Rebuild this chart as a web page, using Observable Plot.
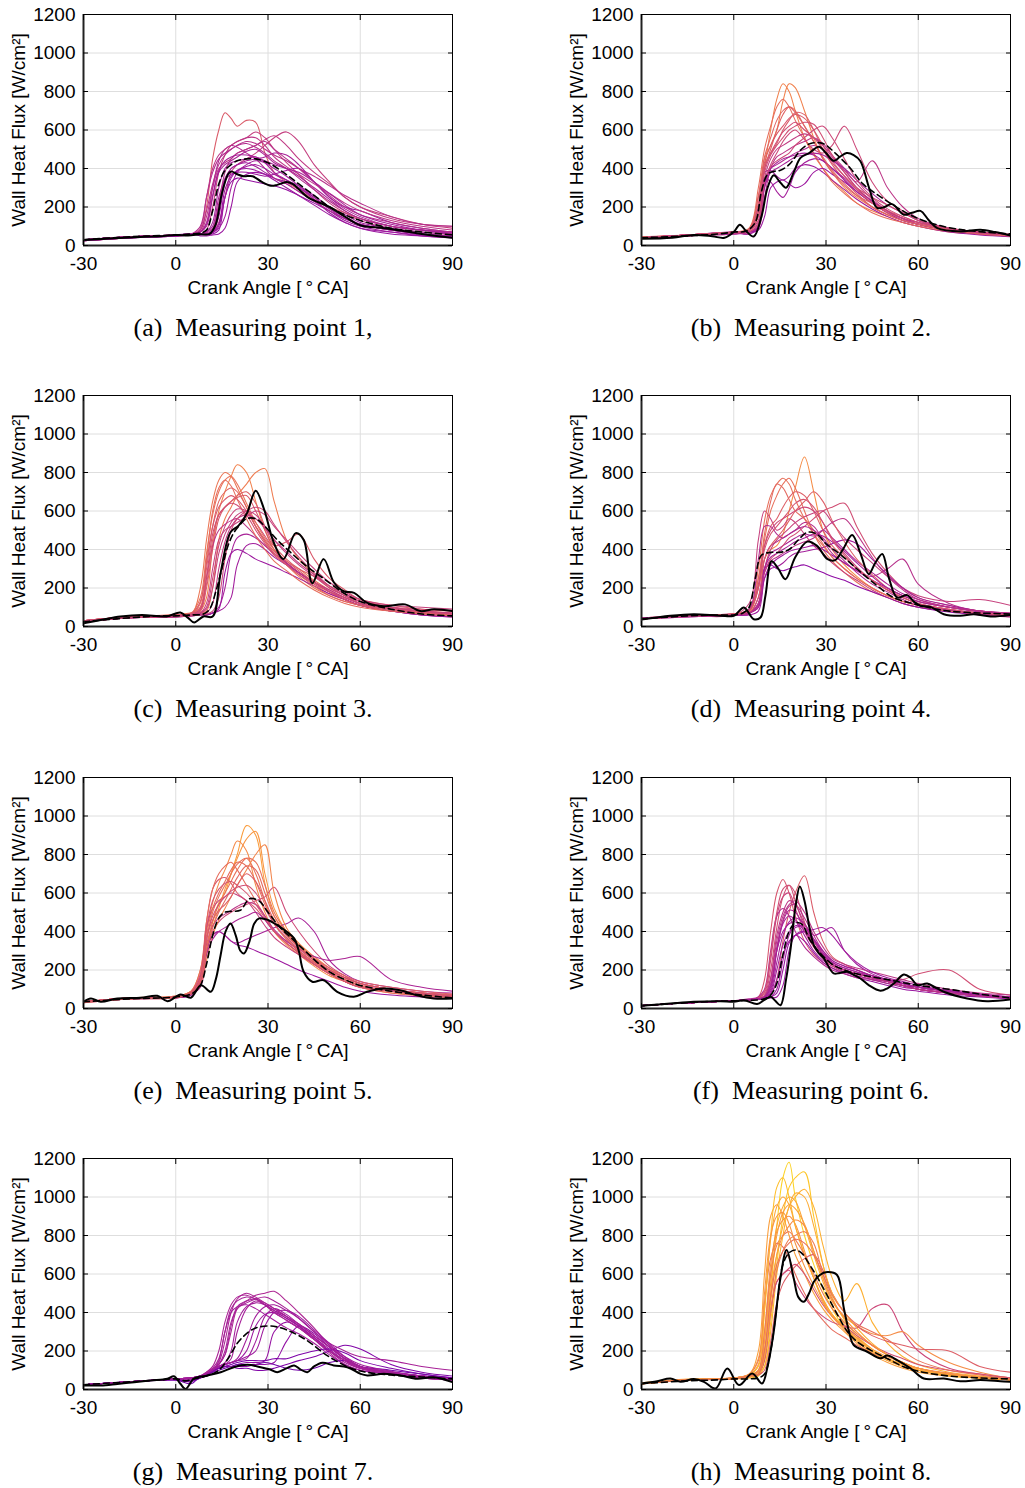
<!DOCTYPE html>
<html>
<head>
<meta charset="utf-8">
<script src="https://cdn.jsdelivr.net/npm/d3@7"></script>
<script src="https://cdn.jsdelivr.net/npm/@observablehq/plot@0.6"></script>
<style>
  html, body { margin: 0; padding: 0; background: #fff; overflow: hidden; }
  #fig { position: relative; width: 1025px; height: 1488px; background: #fff; }
  .panel { position: absolute; }
  .panel svg { overflow: visible; max-width: none; }
  .cap {
    position: absolute; transform: translateX(-50%); white-space: pre;
    font-family: "Liberation Serif", "Times New Roman", serif; font-size: 26px;
    line-height: 26px; color: #000;
  }
</style>
</head>
<body>
<div id="fig"></div>
<script>
// Crank angles shared by every individual cycle trace (°CA)
const cycleCA = [-30,-15,0,5,8,10,12,14,16,18,20,23,26,29,32,36,40,45,50,55,60,70,80,90];

const xTicks = [-30, 0, 30, 60, 90];
const yTicks = [0, 200, 400, 600, 800, 1000, 1200];

// ---- Measuring point 1 ----
const mp1Cycles = [
  [25,40,55,60,80,200,450,600,690,660,620,650,640,480,380,330,290,240,200,170,140,100,80,60],
  [30,45,55,55,60,80,200,380,470,520,540,560,590,560,500,430,370,290,220,170,130,90,70,55],
  [30,40,50,55,60,60,70,120,250,380,420,450,480,520,560,590,540,420,330,250,200,150,110,90],
  [25,40,55,60,70,150,300,400,430,450,480,500,520,550,570,520,450,380,320,250,200,140,110,100],
  [30,40,50,60,60,60,70,150,330,400,420,430,410,380,350,320,280,230,180,130,100,70,50,40],
  [25,40,55,60,50,50,55,60,90,200,330,370,380,370,350,330,300,240,170,120,90,60,50,40],
  [30,45,55,60,70,100,250,380,420,440,460,490,500,470,430,400,360,300,240,180,140,100,80,70],
  [30,45,55,60,60,70,120,300,400,430,440,450,460,430,380,340,300,250,190,150,110,80,60,50],
  [30,45,50,55,60,60,80,200,340,370,380,380,370,360,370,390,400,330,250,200,180,120,90,70],
  [30,45,55,60,80,180,320,420,470,500,520,540,530,500,470,440,400,360,310,260,220,150,110,100],
  [30,45,55,60,60,60,60,80,250,330,350,340,330,320,310,290,260,220,180,140,110,80,60,50],
  [25,40,55,60,70,120,300,440,500,520,510,480,450,400,350,320,280,230,180,140,110,80,60,50],
  [30,45,55,60,60,70,100,250,350,400,420,440,450,460,480,470,420,330,250,190,150,100,80,70],
  [30,40,50,55,60,60,65,100,250,350,390,410,420,400,370,340,310,260,200,160,120,90,70,60],
  [25,40,55,60,100,250,380,450,480,500,520,530,510,480,440,400,350,290,230,180,140,100,80,60],
  [30,45,55,60,60,65,90,220,380,450,480,500,520,540,500,450,400,330,260,200,160,120,90,70],
  [25,40,50,55,60,60,70,90,150,300,380,420,440,430,400,360,310,250,190,140,110,80,60,50],
  [30,45,55,60,90,250,400,470,500,520,540,560,560,520,460,410,370,320,270,220,180,130,100,80],
  [30,40,50,60,60,60,70,110,290,360,390,400,390,370,340,300,260,210,160,120,90,70,55,45],
  [25,40,55,60,70,110,260,390,440,460,470,470,460,440,420,400,380,330,270,210,160,110,80,65]
];
const mp1MeanCA = [-30,-15,0,5,8,10,12,14,16,18,20,23,26,30,35,40,45,50,55,60,70,80,90];
const mp1Mean   = [30,45,55,60,65,80,180,320,390,420,440,450,450,430,380,320,260,200,160,130,90,70,55];
const mp1SoloCA = [-30,-20,-10,-5,0,4,8,11,13,15,17,18,20,22,25,28,31,33,36,38,43,50,55,60,68,80,90];
const mp1Solo   = [28,38,45,48,55,52,58,60,110,270,370,385,370,360,360,330,310,315,330,320,250,200,150,105,90,60,40];

// ---- Measuring point 2 ----
const mp2Cycles = [
  [40,55,70,80,200,450,520,600,750,840,820,700,560,450,380,300,250,200,160,130,110,80,60,50],
  [40,50,70,70,150,400,600,760,840,800,700,560,470,400,340,280,220,180,150,120,100,70,60,50],
  [45,55,60,80,250,420,480,530,600,650,690,680,600,500,420,340,270,200,160,130,110,80,60,50],
  [40,55,70,60,100,300,400,420,440,460,480,500,520,500,450,380,300,230,180,140,110,80,65,55],
  [40,50,70,80,200,380,390,360,340,360,400,420,410,380,340,290,240,190,150,120,100,70,55,45],
  [40,55,65,70,120,330,420,480,540,580,600,550,500,480,520,620,500,330,230,180,130,90,70,55],
  [45,55,70,90,300,500,620,720,760,720,650,560,480,400,330,270,220,170,140,120,100,75,60,50],
  [40,55,65,70,90,250,400,460,480,500,520,540,560,530,470,400,330,440,300,200,140,90,70,55],
  [40,55,70,70,80,150,300,330,340,320,300,320,380,400,370,330,280,220,170,130,110,80,60,50],
  [40,55,70,80,150,380,470,520,560,600,620,640,630,560,470,380,300,230,180,140,120,90,70,60],
  [40,50,60,70,100,320,400,430,450,460,470,480,470,440,400,350,290,230,180,140,120,85,65,55],
  [40,55,70,80,180,400,500,600,680,720,700,620,540,450,380,310,260,220,180,150,120,85,65,55],
  [40,55,65,60,90,350,330,280,250,300,380,430,450,440,400,340,280,220,170,140,110,80,60,50],
  [40,55,65,75,220,430,520,580,620,660,680,660,600,520,440,360,290,220,170,140,110,80,65,55],
  [40,50,70,80,130,350,450,500,520,540,560,580,560,520,460,390,320,240,180,140,110,80,65,50],
  [45,55,70,85,260,460,560,650,700,720,690,620,540,460,390,320,260,200,160,130,110,80,60,50],
  [40,55,60,70,100,300,380,400,420,440,460,470,480,470,440,400,340,270,210,170,130,90,70,55],
  [40,55,70,80,170,400,480,540,590,620,640,600,560,500,430,360,300,250,210,170,130,90,70,55],
  [40,50,65,70,110,330,410,440,460,480,520,560,600,620,560,450,340,250,190,150,120,90,70,55]
];
const mp2MeanCA = [-30,-15,-5,0,4,7,9,11,13,15,18,22,25,29,33,38,42,48,55,60,68,75,90];
const mp2Mean   = [40,50,60,70,75,120,280,370,385,390,420,500,530,530,480,400,320,250,180,140,100,80,60];
const mp2SoloCA = [-30,-20,-13,-7,-3,0,2,4,6.5,9,11,13,15,17,19.5,21.7,24.5,27.7,30,32.5,34.5,36.7,39,41.2,44,46.6,49,51.5,55.3,58,60.7,63.5,66.2,73.7,80.2,85,90];
const mp2Solo   = [35,40,55,48,40,70,108,75,47,150,300,365,330,300,380,455,480,513,480,440,460,480,470,438,300,195,200,215,160,170,180,130,90,73,82,70,52];

// ---- Measuring point 3 ----
const mp3Cycles = [
  [25,50,60,60,200,450,650,760,800,780,720,620,520,440,380,320,260,200,160,130,110,80,70,60],
  [25,50,55,60,80,150,420,600,700,780,840,800,650,500,400,330,280,220,170,140,110,80,65,55],
  [30,50,60,70,70,80,200,450,560,620,680,740,800,820,650,450,350,270,200,160,120,90,70,60],
  [25,45,55,60,70,100,250,420,520,580,610,600,540,470,400,330,280,230,180,140,110,80,60,55],
  [25,45,50,55,60,60,70,100,200,380,460,480,460,420,380,330,280,230,180,140,110,80,60,50],
  [25,45,55,60,65,60,70,80,100,150,320,420,430,400,360,320,280,230,180,150,120,90,70,60],
  [30,50,60,70,150,380,580,700,760,780,740,640,540,460,400,340,300,240,190,150,120,90,80,70],
  [25,45,60,60,80,200,400,560,620,650,670,680,600,500,420,440,480,350,250,190,140,100,80,70],
  [25,45,55,60,90,250,420,500,530,550,560,520,470,420,380,330,280,230,190,150,120,90,70,60],
  [30,50,55,70,100,220,450,580,620,650,680,700,640,520,420,350,300,260,210,170,140,110,90,80],
  [25,45,50,55,60,60,70,90,280,380,400,380,350,330,310,280,250,210,170,140,110,80,60,50],
  [30,50,60,60,120,350,600,720,760,730,660,560,470,400,340,290,240,190,150,120,100,80,70,60],
  [30,50,55,60,70,120,300,450,500,520,540,570,600,580,520,450,380,300,230,180,140,110,100,90],
  [25,45,55,60,100,300,520,650,700,720,700,620,520,440,380,320,270,210,160,130,110,80,65,55],
  [25,45,55,60,70,90,200,380,480,540,580,600,580,520,450,380,320,260,200,160,130,95,75,65],
  [30,50,55,65,130,330,520,620,660,680,660,600,520,450,390,340,290,230,180,140,110,90,75,65],
  [25,45,55,60,65,70,120,300,440,520,560,580,560,510,450,390,330,270,210,170,130,100,80,70],
  [30,50,60,65,90,260,480,580,620,640,630,580,500,430,370,320,270,220,180,150,120,100,90,80],
  [25,45,50,55,60,65,80,150,350,500,560,600,620,600,530,440,360,280,210,160,130,100,80,65]
];
const mp3MeanCA = [-30,-15,-5,0,5,9,11,13,15,17,19,21,23,26,29,33,37,42,48,55,60,70,80,90];
const mp3Mean   = [25,45,55,55,60,65,90,180,300,420,490,530,560,560,520,450,390,320,250,170,130,90,65,55];
const mp3SoloCA = [-30,-24,-18,-11,-3,1.5,4,6,9,12,14.6,17.8,20.5,23.2,26,28.7,31.9,35,39,41.6,44.4,48.1,51.4,54.6,58,62,67.6,74.6,79.5,84,90];
const mp3Solo   = [17,35,52,60,52,73,45,21,52,52,280,490,525,590,705,610,435,350,485,450,225,350,230,183,175,125,105,115,80,90,80];

// ---- Measuring point 4 ----
const mp4Cycles = [
  [40,55,60,70,200,350,400,420,480,600,720,880,700,500,400,320,260,200,160,130,110,80,65,55],
  [40,55,65,80,250,450,600,680,740,770,720,600,480,400,340,280,230,180,150,120,100,80,70,60],
  [45,55,60,120,450,600,560,500,520,560,540,480,420,380,330,280,240,190,150,120,100,80,60,50],
  [40,55,65,70,120,300,380,400,420,440,460,480,470,500,460,400,340,280,220,170,140,100,80,65],
  [40,55,60,65,150,300,320,300,290,300,310,320,300,280,260,240,210,180,150,120,100,75,60,50],
  [40,55,60,70,100,280,350,380,420,460,480,520,560,600,620,640,520,380,280,200,150,110,80,65],
  [45,55,65,90,300,550,680,740,770,740,660,560,480,420,360,300,250,200,160,130,110,80,65,55],
  [40,55,60,70,120,350,420,440,460,480,500,540,520,450,380,330,290,260,300,350,220,120,80,65],
  [40,50,60,60,80,250,320,350,370,390,400,410,420,400,370,330,290,240,200,160,130,100,75,60],
  [40,55,65,80,200,420,520,560,620,670,700,680,600,500,420,360,300,240,190,150,120,90,70,60],
  [45,55,65,70,100,300,400,450,480,510,540,570,590,600,540,460,400,330,260,200,160,130,140,110],
  [40,55,60,70,100,250,300,310,330,360,380,390,400,410,430,450,430,350,270,200,150,110,80,70],
  [40,55,65,90,250,480,650,740,720,660,600,560,500,430,360,300,250,200,160,130,110,80,65,55],
  [40,55,60,80,220,420,500,540,560,580,600,620,600,540,460,380,310,240,190,150,120,90,70,60],
  [40,55,65,70,150,350,420,460,500,550,600,650,700,650,550,440,350,270,200,160,130,100,80,65],
  [45,55,60,90,350,520,520,480,460,480,500,520,500,460,400,340,280,220,180,140,110,85,65,55],
  [40,55,60,70,110,300,360,380,400,420,440,460,480,470,440,390,330,260,200,160,130,100,80,65],
  [40,55,65,80,200,400,480,520,560,600,640,660,620,540,450,370,300,240,190,150,120,90,70,60],
  [40,50,60,70,120,280,340,360,380,400,420,440,460,500,540,560,480,360,260,190,140,100,80,70]
];
const mp4MeanCA = [-30,-15,-5,0,3,5,7,9,12,15,18,21,24,27,30,35,40,46,52,58,63,70,80,90];
const mp4Mean   = [40,55,60,60,70,100,250,370,385,385,400,450,490,480,430,370,300,220,150,120,100,80,70,65];
const mp4SoloCA = [-30,-20.6,-13,-4.3,0,3.3,6.5,8.7,10.3,12.3,14.5,16.8,20,23.9,27,30.5,33,35.5,38.5,41.2,43.9,46,48.3,50.5,53.1,56.4,58.5,60.7,64,68.3,73.7,78,83.5,90];
const mp4Solo   = [36,56,64,56,56,99,38,47,160,339,300,246,360,441,420,350,345,400,475,380,272,330,377,250,151,163,130,108,102,64,56,64,52,60];

// ---- Measuring point 5 ----
const mp5Cycles = [
  [30,55,60,90,150,300,450,550,600,700,800,950,900,650,480,380,320,250,190,150,120,90,70,60],
  [35,55,60,80,130,280,420,520,620,700,780,880,920,700,520,400,330,260,200,160,130,100,80,70],
  [35,55,65,90,200,400,550,650,720,800,870,820,640,500,400,330,280,220,170,140,110,80,70,60],
  [35,55,60,80,170,450,620,670,680,650,600,560,520,460,400,340,290,230,180,140,110,90,70,60],
  [35,50,55,70,150,330,380,400,380,350,330,320,300,280,260,230,200,170,140,110,90,70,60,50],
  [35,55,60,80,120,300,400,450,480,500,520,540,560,580,630,500,400,300,220,170,130,100,80,70],
  [35,50,55,70,120,300,380,400,380,350,340,360,380,400,420,440,470,400,250,180,140,110,90,80],
  [35,55,60,80,140,350,500,580,640,700,750,780,700,560,440,360,300,240,190,150,120,90,75,65],
  [35,55,60,80,160,420,520,560,580,600,590,560,500,430,370,320,280,230,180,140,110,90,75,60],
  [35,55,60,80,120,250,380,460,520,580,640,720,800,850,600,420,340,270,210,160,130,100,80,70],
  [35,55,60,75,110,280,360,400,420,440,460,480,500,460,400,350,310,270,250,260,270,150,110,90],
  [35,55,65,90,200,450,620,700,740,760,720,640,560,480,400,340,290,230,180,140,110,80,65,55],
  [30,50,55,75,130,330,430,470,490,510,530,550,540,480,410,350,300,240,190,150,120,95,80,70],
  [35,55,60,80,150,380,520,600,660,720,760,740,660,540,440,360,300,240,190,150,120,90,75,60],
  [35,50,60,80,130,320,450,540,600,660,720,780,760,640,500,400,330,260,200,160,130,100,80,65],
  [35,55,60,85,180,420,560,620,650,660,640,600,540,470,400,340,290,230,180,140,110,90,75,60],
  [30,50,55,75,120,300,420,500,560,620,680,740,720,600,480,390,320,250,200,160,130,100,80,70],
  [35,55,60,80,140,360,480,540,580,610,630,640,600,520,440,370,310,250,200,160,130,100,80,65],
  [35,50,60,80,150,360,460,510,540,580,640,700,660,560,460,380,320,260,210,170,140,110,90,75]
];
const mp5MeanCA = [-30,-15,-5,0,5,8,10,12,14,16,18,21,24,27,30,34,38,42,46,50,55,60,70,80,90];
const mp5Mean   = [35,50,55,60,75,120,230,380,470,500,505,510,570,560,500,420,360,300,240,190,150,120,90,70,55];
const mp5SoloCA = [-30,-27.6,-24.4,-19,-11.4,-6,-2.7,1.6,4.9,8.2,11.4,13,14.6,16.2,17.8,19.5,21,22.2,24,25.5,27.1,30,33,36,38.5,40,41.6,44.4,48.1,52.5,57.9,62.2,67.6,73,78.4,83.9,90];
const mp5Solo   = [35,52,35,52,56,66,38,73,56,121,87,150,278,400,442,380,300,286,350,440,468,460,433,400,364,300,191,139,147,87,61,87,104,95,69,52,52];

// ---- Measuring point 6 ----
const mp6Cycles = [
  [15,30,40,45,50,50,70,150,350,500,600,690,500,350,270,230,200,170,150,130,110,90,70,55],
  [15,30,40,45,60,150,400,600,670,600,480,350,280,240,210,190,170,150,130,120,100,80,65,55],
  [15,30,40,45,50,60,120,300,400,440,450,380,300,250,220,190,170,150,130,110,100,80,65,50],
  [15,30,40,45,50,50,60,80,200,340,380,350,290,240,210,180,160,140,120,100,90,70,60,50],
  [15,30,40,45,55,80,250,480,580,600,520,400,320,270,230,200,180,160,140,120,100,80,65,55],
  [15,30,40,45,50,55,80,200,330,400,420,430,380,400,420,300,230,180,150,130,110,90,70,60],
  [15,30,40,45,50,60,100,300,450,510,500,420,330,270,230,200,180,160,140,120,100,80,65,55],
  [15,30,40,45,50,70,200,420,580,640,600,450,330,270,230,200,180,160,150,150,180,200,100,70],
  [15,30,40,45,50,50,55,60,120,300,380,400,350,280,230,200,180,160,140,120,110,90,70,55],
  [15,30,40,50,60,100,300,480,520,480,400,320,270,230,200,180,160,150,140,130,110,90,75,60],
  [15,30,40,45,50,60,150,350,480,540,560,500,400,320,260,230,210,190,170,150,130,100,80,70],
  [15,30,40,45,50,50,70,150,280,350,380,400,410,420,380,300,240,190,160,140,120,95,75,60],
  [15,30,40,45,50,60,130,320,460,530,540,470,380,300,250,220,200,170,150,130,110,90,70,55],
  [15,30,40,45,55,90,280,500,620,640,560,420,320,260,220,200,180,160,140,120,100,80,65,55],
  [15,30,40,45,50,55,90,240,380,450,470,440,360,290,240,210,190,160,140,120,100,80,65,55],
  [15,30,40,45,50,65,160,380,500,560,540,440,350,280,230,200,180,160,140,120,100,80,65,55],
  [15,30,40,45,50,50,60,100,250,380,430,420,360,300,250,220,200,170,150,130,110,90,70,60],
  [15,30,40,45,50,60,110,300,440,480,460,400,330,280,240,210,190,170,150,130,110,90,70,60]
];
const mp6MeanCA = [-30,-15,-5,0,5,10,12,14,16,18,20,22,25,28,32,36,40,50,60,70,80,90];
const mp6Mean   = [15,30,38,40,42,50,70,130,280,400,445,440,350,290,230,200,180,150,120,100,75,55];
const mp6SoloCA = [-30,-20.6,-13,-4.3,0,3.3,7.6,10,12,13.5,15.2,17,18.5,20,21.5,23,24.5,26,27.5,29.3,32.5,34.5,36.9,39,41.2,44,47.7,50,52.1,55.3,57.5,59.7,62.9,65.5,68.3,75.9,82.4,90];
const mp6Solo   = [14,26,35,38,35,43,23,45,61,40,17,150,312,520,634,560,430,330,290,260,182,185,191,175,156,120,92,105,130,177,160,122,130,110,87,52,38,47];

// ---- Measuring point 7 ----
const mp7Cycles = [
  [25,40,55,60,65,80,100,140,250,400,470,500,480,450,420,380,330,260,190,130,100,80,60,50],
  [25,40,55,60,70,80,100,130,180,300,420,460,490,500,510,460,400,320,230,160,120,90,70,55],
  [25,40,55,55,60,70,90,110,130,160,300,420,460,440,410,370,330,270,200,140,110,80,60,50],
  [25,40,55,50,65,80,100,120,130,140,150,160,250,380,420,390,340,280,220,160,120,90,70,55],
  [25,40,55,60,70,80,100,110,120,120,130,140,140,150,300,350,320,260,200,150,110,90,70,60],
  [25,40,50,40,60,80,100,110,120,120,110,110,100,100,110,130,150,170,200,230,210,130,90,70],
  [25,40,55,60,70,80,100,150,300,400,430,440,420,390,360,320,290,240,180,130,100,80,60,50],
  [25,40,50,30,70,80,90,100,110,120,130,130,130,140,130,110,100,110,140,150,120,100,80,60],
  [25,40,55,60,70,90,110,130,200,350,420,450,470,480,460,420,370,300,240,200,170,150,120,100],
  [25,40,55,60,70,80,100,110,120,120,120,120,130,130,140,250,330,290,220,160,120,90,70,60],
  [25,40,55,60,70,80,100,130,180,330,430,460,470,440,400,360,320,260,200,150,110,80,60,50],
  [25,40,55,60,65,80,100,120,130,140,150,200,330,390,400,370,330,270,210,150,110,85,65,50],
  [25,40,55,60,70,90,120,200,350,440,480,490,470,440,400,360,320,260,200,150,110,85,65,50],
  [25,40,55,60,65,80,100,120,140,200,350,430,450,440,410,380,340,280,220,160,120,90,70,55],
  [25,40,55,60,70,80,100,120,130,140,150,170,200,330,400,410,380,310,240,170,120,90,70,55],
  [25,40,50,45,60,75,95,110,120,130,140,150,150,150,160,160,180,200,210,190,150,110,80,60],
  [25,40,55,60,70,85,110,160,300,420,460,480,470,450,420,380,340,280,220,160,120,90,70,55],
  [25,40,55,55,65,80,100,120,130,140,160,260,380,430,440,410,370,300,230,170,130,95,70,55]
];
const mp7MeanCA = [-30,-15,-5,0,3,6,10,14,17,20,23,26,30,33,36,40,44,48,52,57,62,70,80,90];
const mp7Mean   = [25,40,50,55,45,55,70,100,160,240,290,320,330,325,310,280,240,190,150,110,90,75,65,55];
const mp7SoloCA = [-30,-24.4,-19,-13.5,-8.1,-2.7,-0.6,1.5,3.2,5.9,10.3,14.6,18.9,23.3,27.6,30.5,33,36,38.5,40.5,42.8,45,47.7,51.4,55.8,60.1,62.3,67.7,73.1,78.5,83.9,90];
const mp7Solo   = [21,21,29,38,47,56,69,30,3,56,73,90,116,128,116,105,90,110,125,105,90,120,139,125,116,81,73,82,73,56,64,38];

// ---- Measuring point 8 ----
const mp8Cycles = [
  [30,50,60,70,80,150,500,850,1100,1180,1000,800,650,520,420,320,250,190,150,120,100,70,60,50],
  [30,50,55,60,70,120,350,650,900,1050,1100,1130,900,650,480,360,280,210,160,120,100,70,60,50],
  [30,50,60,80,200,600,900,960,900,800,700,600,500,420,360,300,240,180,140,110,90,70,60,50],
  [35,55,60,70,90,250,600,850,950,1000,980,850,700,560,440,340,270,200,160,130,100,75,60,50],
  [30,50,60,70,80,150,400,560,600,620,560,480,420,380,350,330,320,420,440,300,200,110,80,60],
  [30,50,55,65,80,200,500,700,800,850,880,850,720,580,460,380,330,290,280,300,230,140,90,60],
  [30,50,60,80,150,450,680,760,740,680,600,500,420,360,310,270,230,190,160,130,110,80,60,50],
  [30,50,55,65,80,120,300,600,800,950,1000,1040,950,750,580,460,550,350,240,170,130,90,70,55],
  [30,50,60,70,80,200,420,560,600,630,650,600,520,440,380,330,280,230,190,160,130,100,80,60],
  [30,50,60,75,100,300,650,820,880,900,860,720,580,460,380,310,250,190,150,120,100,75,60,50],
  [30,50,55,65,75,100,250,450,550,600,640,680,700,620,500,400,330,280,250,230,210,200,120,90],
  [30,50,60,75,120,400,800,1050,1100,1000,850,700,580,470,390,320,260,200,160,130,100,75,60,50],
  [30,50,55,70,80,160,400,620,720,780,800,820,760,600,470,370,300,230,180,140,110,85,65,55],
  [30,50,60,75,130,420,780,950,1000,960,850,700,580,470,390,320,260,200,160,130,100,75,60,50],
  [30,50,55,70,90,250,550,800,920,960,940,860,720,580,460,370,300,230,180,140,110,80,65,50],
  [30,50,60,70,100,300,600,750,800,820,780,700,600,500,420,350,290,230,180,140,110,80,65,55],
  [30,50,55,65,80,180,450,700,850,950,1020,1000,850,650,500,400,320,240,180,140,110,80,65,50],
  [30,50,60,80,160,500,800,900,920,860,760,640,540,450,380,320,270,210,170,140,110,80,65,50],
  [30,50,55,70,80,200,480,650,720,760,780,760,700,600,490,400,340,300,260,200,150,100,75,55]
];
const mp8MeanCA = [-30,-15,-5,0,5,8,10,12,14,16,18,20,22,25,28,31,34,37,40,45,50,55,60,70,80,90];
const mp8Mean   = [30,45,50,55,55,60,80,200,430,650,710,725,710,640,560,470,380,300,250,200,160,120,95,70,60,55];
const mp8SoloCA = [-30,-24.9,-20.6,-17.3,-13,-9.7,-5.9,-2.1,1.7,6,9.2,11,13,15,17.2,19.5,21,22.8,24.5,26,28,30.4,33.6,35.8,37.5,39,43.4,47.7,49.9,53.1,57.5,61.8,68.3,73.7,80.2,86.7,90];
const mp8Solo   = [31,43,57,40,54,40,5,109,23,83,31,120,300,560,725,578,480,456,500,558,595,610,595,422,300,231,196,162,176,153,110,57,57,43,49,43,40];

const panelTags   = ["(a)", "(b)", "(c)", "(d)", "(e)", "(f)", "(g)", "(h)"];
const panelTitles = ["Measuring point 1,", "Measuring point 2.", "Measuring point 3.", "Measuring point 4.",
                     "Measuring point 5.", "Measuring point 6.", "Measuring point 7.", "Measuring point 8."];

const panels = [
  [mp1Cycles, mp1MeanCA, mp1Mean, mp1SoloCA, mp1Solo],
  [mp2Cycles, mp2MeanCA, mp2Mean, mp2SoloCA, mp2Solo],
  [mp3Cycles, mp3MeanCA, mp3Mean, mp3SoloCA, mp3Solo],
  [mp4Cycles, mp4MeanCA, mp4Mean, mp4SoloCA, mp4Solo],
  [mp5Cycles, mp5MeanCA, mp5Mean, mp5SoloCA, mp5Solo],
  [mp6Cycles, mp6MeanCA, mp6Mean, mp6SoloCA, mp6Solo],
  [mp7Cycles, mp7MeanCA, mp7Mean, mp7SoloCA, mp7Solo],
  [mp8Cycles, mp8MeanCA, mp8Mean, mp8SoloCA, mp8Solo]
];

// Each cycle is coloured by its peak heat flux along the plasma colour map
const peakToT = d3.scaleLinear().domain([100, 500, 700, 900, 1200]).range([0.2, 0.38, 0.58, 0.74, 0.92]).clamp(true);
const peakColor = (p) => d3.interpolatePlasma(peakToT(p));

const pairs = (xs, ys) => xs.map((x, i) => ({ca: x, q: ys[i]}));
const blank = () => "";

function drawPanel([cycles, meanCA, mean, soloCA, solo], col) {
  const rows = cycles.flatMap((vals, k) => {
    const color = peakColor(d3.max(vals));
    return vals.map((v, j) => ({cycle: k, ca: cycleCA[j], q: v, color}));
  });
  const width = col ? 467 : 470;
  return Plot.plot({
    width, height: 305,
    marginLeft: 83, marginRight: width - 83 - 369, marginTop: 14, marginBottom: 60,
    style: {fontFamily: "'Liberation Sans', Arial, Helvetica, sans-serif", fontSize: "19px", color: "#000", background: "#fff", overflow: "visible"},
    x: {domain: [-30, 90]},
    y: {domain: [0, 1200]},
    color: {type: "identity"},
    marks: [
      Plot.gridX(xTicks, {stroke: "#dedede", strokeOpacity: 1}),
      Plot.gridY(yTicks, {stroke: "#dedede", strokeOpacity: 1}),
      Plot.line(rows, {x: "ca", y: "q", z: "cycle", stroke: "color", strokeWidth: 1.05, curve: "catmull-rom", clip: true}),
      Plot.line(pairs(meanCA, mean), {x: "ca", y: "q", stroke: "#000", strokeWidth: 1.6, strokeDasharray: "6,4", curve: "catmull-rom", clip: true}),
      Plot.line(pairs(soloCA, solo), {x: "ca", y: "q", stroke: "#000", strokeWidth: 2, curve: "catmull-rom", clip: true}),
      Plot.frame({stroke: "#000", strokeWidth: 1}),
      // heavier left and bottom axis lines
      Plot.ruleY([0], {stroke: "#222", strokeWidth: 2}),
      Plot.ruleX([-30], {stroke: "#222", strokeWidth: 2}),
      Plot.axisX(xTicks, {anchor: "bottom", tickSize: -5, tickPadding: 16, tickFormat: (d) => String(d),
        label: "Crank Angle [\u2009\u00b0\u2009CA]", labelAnchor: "center", labelArrow: "none", labelOffset: 48}),
      Plot.axisX(xTicks, {anchor: "top", tickSize: -5, tickFormat: blank, label: null}),
      Plot.axisY(yTicks, {anchor: "left", tickSize: -5, tickPadding: 13, tickFormat: (d) => String(d),
        label: "Wall Heat Flux [W/cm\u00b2]", labelAnchor: "center", labelArrow: "none", labelOffset: 72}),
      Plot.axisY(yTicks, {anchor: "right", tickSize: -5, tickFormat: blank, label: null})
    ]
  });
}

const fig = document.getElementById("fig");
const rowTops = [0, 381, 763, 1144];
panels.forEach((p, i) => {
  const col = i % 2, row = Math.floor(i / 2);
  const wrap = document.createElement("div");
  wrap.className = "panel";
  wrap.style.left = (col ? 558 : 0) + "px";
  wrap.style.top = rowTops[row] + "px";
  wrap.style.width = (col ? 467 : 470) + "px";
  wrap.append(drawPanel(p, col));
  fig.append(wrap);

  const cap = document.createElement("div");
  cap.className = "cap";
  cap.style.left = (col ? 811 : 253) + "px";
  cap.style.top = (rowTops[row] + 315) + "px";
  cap.textContent = panelTags[i] + "\u2002" + panelTitles[i];
  fig.append(cap);
});
</script>
</body>
</html>
